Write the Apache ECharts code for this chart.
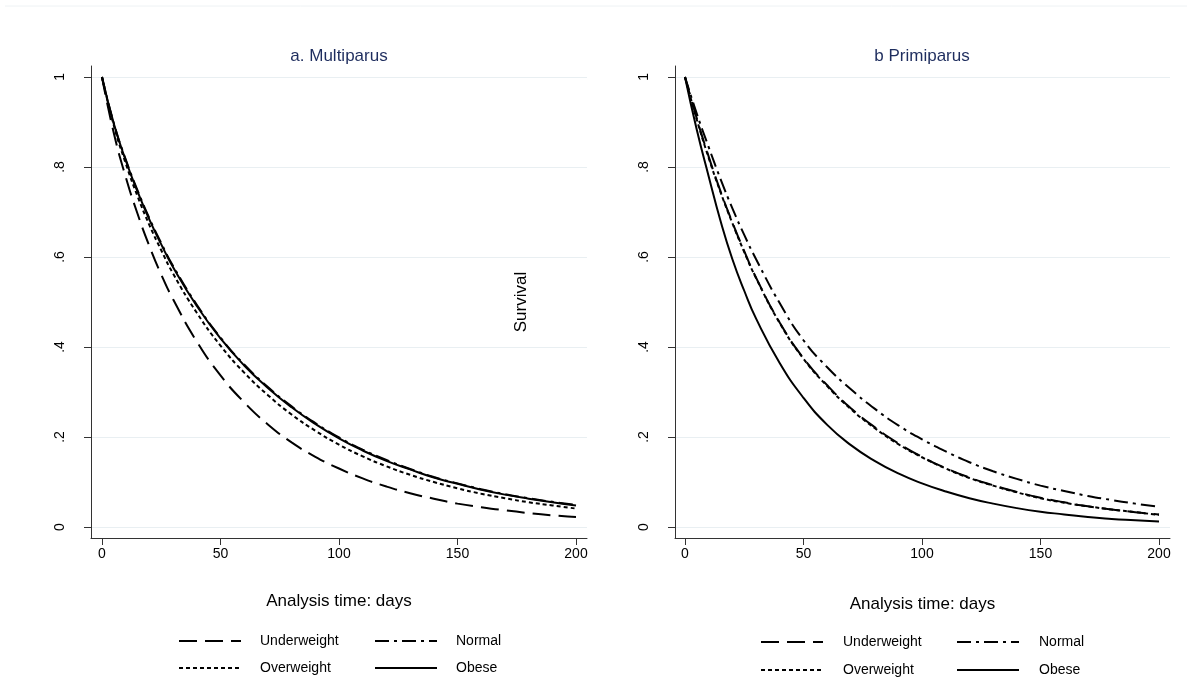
<!DOCTYPE html>
<html>
<head>
<meta charset="utf-8">
<title>Survival by BMI group</title>
<script src="https://cdn.jsdelivr.net/npm/echarts@6/dist/echarts.min.js"></script>
<style>
html, body { margin: 0; padding: 0; background: #fff; }
#main { width: 1187px; height: 686px; }
</style>
</head>
<body>
<div id="main"></div>
<script>
// analysis time (days)
var days = [0, 5, 10, 15, 20, 25, 30, 40, 50, 60, 70, 80, 90, 100, 110, 120, 130, 140, 150, 160, 170, 180, 190, 200];

// a. Multiparus
var multiUnder  = [1, .875, .778, .696, .624, .561, .506, .412, .337, .277, .228, .188, .156, .130, .108, .090, .075, .063, .052, .044, .037, .031, .026, .022];
var multiNormal = [1, .897, .817, .748, .686, .631, .580, .494, .421, .361, .311, .268, .231, .199, .172, .149, .129, .111, .097, .084, .073, .064, .056, .049];
var multiOver   = [1, .892, .808, .735, .671, .615, .563, .476, .403, .343, .293, .250, .214, .183, .157, .135, .116, .100, .086, .074, .064, .055, .048, .041];
var multiObese  = [1, .896, .815, .745, .683, .628, .577, .491, .419, .359, .309, .266, .229, .197, .170, .147, .128, .110, .096, .083, .072, .063, .055, .048];

// b Primiparus
var priUnder  = [1, .907, .823, .746, .677, .613, .554, .454, .375, .315, .264, .222, .186, .156, .131, .110, .093, .078, .065, .055, .046, .039, .033, .028];
var priNormal = [1, .918, .844, .773, .708, .649, .595, .497, .415, .355, .306, .263, .226, .195, .168, .144, .124, .107, .092, .080, .069, .060, .052, .045];
var priOver   = [1, .905, .820, .744, .675, .611, .553, .453, .374, .313, .262, .220, .184, .155, .130, .109, .092, .077, .064, .054, .046, .039, .033, .027];
var priObese  = [1, .882, .779, .680, .595, .525, .463, .364, .287, .227, .182, .147, .119, .097, .079, .064, .052, .042, .034, .028, .022, .018, .015, .012];

var groupNames = ['Underweight', 'Normal', 'Overweight', 'Obese'];
var panelTitles = ['a. Multiparus', 'b Primiparus'];
var xTicks = [0, 50, 100, 150, 200];
var yTicks = [0, 0.2, 0.4, 0.6, 0.8, 1];

var FONT = '"Liberation Sans", Arial, sans-serif';

var dashTypes = {
    Underweight: [18, 8],
    Normal: [14, 5, 3, 5],
    Overweight: [4, 3],
    Obese: 'solid'
};

function pairs(values) {
    return days.map(function (d, i) {
        return [d, values[i]];
    });
}

function yLabel(v) {
    if (v === 0 || v === 1) return String(v);
    return String(+v.toFixed(1)).replace(/^0/, '');
}

function makeSeries(panel, values) {
    return values.map(function (arr, k) {
        return {
            name: groupNames[k],
            type: 'line',
            xAxisIndex: panel,
            yAxisIndex: panel,
            data: pairs(arr),
            smooth: true,
            symbol: 'none',
            silent: true,
            lineStyle: { color: '#000', width: 2, type: dashTypes[groupNames[k]] },
            itemStyle: { color: '#000' }
        };
    });
}

// one legend per key so the two columns line up like the original
function legendItem(name, left, top, gap) {
    return {
        data: [name],
        left: left,
        top: top,
        padding: 0,
        itemWidth: 62,
        itemHeight: 14,
        selectedMode: false,
        itemStyle: { opacity: 0 },   // hide the marker dot, keep the line key
        textStyle: { fontFamily: FONT, fontSize: 14, color: '#000', padding: [0, 0, 0, gap] }
    };
}

function xAxisOf(panel, min, nameGap) {
    return {
        type: 'value',
        gridIndex: panel,
        min: min,
        max: 204.64,
        name: 'Analysis time: days',
        nameLocation: 'middle',
        nameGap: nameGap,
        nameTextStyle: { fontFamily: FONT, fontSize: 17, color: '#000' },
        axisLine: { onZero: false, lineStyle: { color: '#333', width: 1 } },
        axisTick: { customValues: xTicks, length: 7, lineStyle: { color: '#333' } },
        axisLabel: { customValues: xTicks, margin: 9, fontFamily: FONT, fontSize: 14, color: '#000' },
        splitLine: { show: false }
    };
}

function yAxisOf(panel, name) {
    return {
        type: 'value',
        gridIndex: panel,
        min: -0.0244,
        max: 1.0244,
        name: name,
        nameLocation: 'middle',
        nameGap: 145,
        nameRotate: 90,
        nameTextStyle: { fontFamily: FONT, fontSize: 17, color: '#000' },
        axisLine: { show: true, onZero: false, lineStyle: { color: '#333', width: 1 } },
        axisTick: { show: true, customValues: yTicks, length: 7, lineStyle: { color: '#333' } },
        axisLabel: {
            customValues: yTicks, rotate: 90, margin: 24,
            fontFamily: FONT, fontSize: 14, color: '#000',
            formatter: yLabel
        },
        splitLine: { show: true, lineStyle: { color: '#e9eff2', width: 1 } }
    };
}

var myChart = echarts.init(document.getElementById('main'));

var option = {
    backgroundColor: '#fff',
    animation: false,
    title: [
        { text: panelTitles[0], left: 339, top: 48, textAlign: 'center', padding: 0,
          textStyle: { fontFamily: FONT, fontSize: 17, fontWeight: 'normal', color: '#1e2d5e' } },
        { text: panelTitles[1], left: 922, top: 48, textAlign: 'center', padding: 0,
          textStyle: { fontFamily: FONT, fontSize: 17, fontWeight: 'normal', color: '#1e2d5e' } }
    ],
    legend: [
        legendItem('Underweight', 178, 634, 14),
        legendItem('Normal', 374, 634, 14),
        legendItem('Overweight', 178, 661, 14),
        legendItem('Obese', 374, 661, 14),
        legendItem('Underweight', 760, 635, 15),
        legendItem('Normal', 956, 635, 15),
        legendItem('Overweight', 760, 663, 15),
        legendItem('Obese', 956, 663, 15)
    ],
    grid: [
        { left: 91, top: 66, width: 496, height: 472 },
        { left: 675, top: 66, width: 495, height: 472 }
    ],
    xAxis: [xAxisOf(0, -4.64, 55), xAxisOf(1, -4.22, 58)],
    yAxis: [yAxisOf(0, ''), yAxisOf(1, 'Survival')],
    graphic: [
        { type: 'line', silent: true, shape: { x1: 5, y1: 6, x2: 1187, y2: 6 },
          style: { stroke: '#eef2f4', lineWidth: 1 } }
    ],
    series: makeSeries(0, [multiUnder, multiNormal, multiOver, multiObese])
        .concat(makeSeries(1, [priUnder, priNormal, priOver, priObese]))
};

myChart.setOption(option);
</script>
</body>
</html>
